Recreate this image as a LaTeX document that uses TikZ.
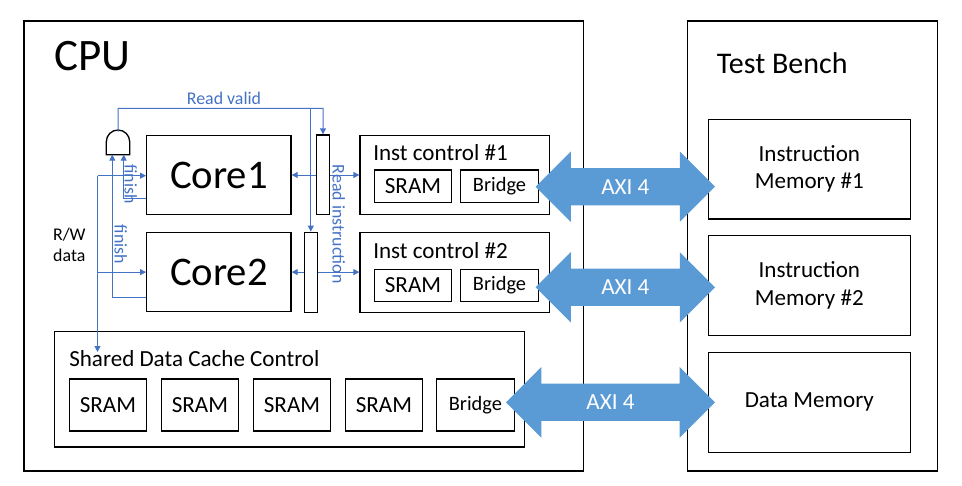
\documentclass[tikz,border=0pt]{standalone}
\usepackage{fontspec}
\setmainfont{Carlito}
\usetikzlibrary{arrows.meta,shapes.arrows,fit}
\definecolor{wireblue}{HTML}{4472C4}
\definecolor{axiblue}{HTML}{5B9BD5}
\newcommand\boxfont{\fontsize{17.3}{20.5}\selectfont}
\newcommand\bridgefont{\fontsize{15.3}{18}\selectfont}
\newcommand\sigfont{\fontsize{13.4}{15.75}\selectfont}
\newcommand\corefont{\fontsize{30.5}{36}\selectfont}
\tikzset{
  box/.style={draw, line width=1pt, inner sep=0pt},
  title/.style={anchor=base west, inner sep=0pt},
  wire/.style={draw=wireblue, line width=0.75pt, -{Triangle[length=4.5pt,width=4.5pt]}},
  sig/.style={text=wireblue, font=\sigfont},
  axi/.style={double arrow, fill=axiblue, text=white, font=\boxfont,
    double arrow tip angle=90, double arrow head extend=12.5pt,
    text height=11.1pt, text depth=0pt, inner ysep=8.2pt, inner xsep=0pt},
}
\begin{document}
\begin{tikzpicture}[x=0.75pt,y=-0.75pt]
\useasboundingbox (0,0) rectangle (962,485);
% frames
\node[box, fit={(24,21) (583.3,471)}] (cpu) {};
\node[title, font=\fontsize{33.75}{40}\selectfont] (cputitle) at (54.3,70) {CPU};
\node[box, fit={(687.7,21) (937.5,471)}] (tb) {};
\node[title, font=\fontsize{22.5}{27}\selectfont] (tbtitle) at (716.7,74) {Test Bench};

% cores and latches
\node[box, fit={(146.7,135.7) (291,214.3)}, label={[font=\corefont]center:Core1}] (core1) {};
\node[box, fit={(146.7,232.7) (291,311.5)}, label={[font=\corefont]center:Core2}] (core2) {};
\node[box, fit={(316.7,135) (329.3,214.3)}] (latch1) {};
\node[box, fit={(304.3,232.3) (317.3,312.3)}] (latch2) {};

% inst controls
\node[box, fit={(360,135.7) (549.3,214.3)}] (ic1) {};
\node[title, font=\boxfont] (ic1title) at (373,160.7) {Inst control \#1};
\node[box, fit={(374.3,170) (451.7,202.3)}, label={[font=\boxfont]center:SRAM}] (ic1sram) {};
\node[box, fit={(460.3,170) (538.7,202.3)}, label={[font=\bridgefont]center:Bridge}] (ic1bridge) {};
\node[box, fit={(360,232.7) (549.3,312.3)}] (ic2) {};
\node[title, font=\boxfont] (ic2title) at (373,258.3) {Inst control \#2};
\node[box, fit={(374.3,269.3) (451.7,301.7)}, label={[font=\boxfont]center:SRAM}] (ic2sram) {};
\node[box, fit={(460.3,269.3) (538.7,301.7)}, label={[font=\bridgefont]center:Bridge}] (ic2bridge) {};

% shared cache
\node[box, fit={(54.4,331.7) (524.4,447)}] (shared) {};
\node[title, font=\boxfont] (sharedtitle) at (69,366) {Shared Data Cache Control};
\node[box, fit={(69.2,378.9) (146.7,430.9)}, label={[font=\boxfont]center:SRAM}] (dsram1) {};
\node[box, fit={(161.2,378.9) (238.6,430.9)}, label={[font=\boxfont]center:SRAM}] (dsram2) {};
\node[box, fit={(253.4,378.9) (330.6,430.9)}, label={[font=\boxfont]center:SRAM}] (dsram3) {};
\node[box, fit={(345.4,378.9) (422.5,430.9)}, label={[font=\boxfont]center:SRAM}] (dsram4) {};
\node[box, fit={(436.3,378.9) (514.5,430.9)}, label={[font=\bridgefont]center:Bridge}] (dbridge) {};

% memories
\node[box, fit={(708.3,119.3) (910.3,219)}, label={[align=center, font=\boxfont]center:Instruction\\Memory \#1}] (im1) {};
\node[box, fit={(708.3,235.7) (910.3,335.3)}, label={[align=center, font=\boxfont]center:Instruction\\Memory \#2}] (im2) {};
\node[box, fit={(708.3,352.3) (910.3,452.3)}, label={[font=\boxfont]center:Data Memory}] (dm) {};

% AXI links
\node[axi, minimum height=134.5pt] (axi1) at (625.35,186.7) {AXI 4};
\node[axi, minimum height=134.5pt] (axi2) at (625.35,287.3) {AXI 4};
\node[axi, minimum height=156.75pt] (axi3) at (610.5,402.3) {AXI 4};

% and gate
\draw[line width=1pt] (106.3,154.7) -- (106.3,141.7) arc[start angle=180, end angle=360, radius=11.7] -- (129.7,154.7) -- cycle;
\coordinate (gateout) at (118,131.7);
\coordinate (gatein1) at (112.3,154.7);
\coordinate (gatein2) at (123.7,154.7);

% read valid
\coordinate (rv) at (323,108.3);
\draw[wire] (gateout) |- (rv) -- (latch1.north);
\draw[wire] (latch2.north |- rv) -- (latch2.north);
\node[sig] (rvlabel) at (224,98.5) {Read valid};

% read instruction
\draw[wire] (latch1.west |- core1.east) -- (core1.east);
\draw[wire] (latch1.east |- core1.east) -- (ic1.west |- core1.east);
\draw[wire] (latch2.west |- core2.east) -- (core2.east);
\draw[wire] (latch2.east |- core2.east) -- (ic2.west |- core2.east);
\node[sig, rotate=-90] (rilabel) at (338.8,224.2) {Read instruction};

% finish
\draw[wire] ([yshift=12pt]core1.south west) -| (gatein2);
\draw[wire] ([yshift=10.9pt]core2.south west) -| (gatein1);
\node[sig, rotate=-90] (fin1) at (130.8,184.2) {finish};
\node[sig, rotate=-90] (fin2) at (120.7,244.5) {finish};

% r/w data
\coordinate (rw) at (97.5,175.7);
\coordinate (rwend) at (97.5,352);
\draw[wire] (rw) -- (core1.west |- rw);
\draw[wire] (rw |- core2.west) -- (core2.west);
\draw[wire] (rw) -- (rwend);
\node[align=center, font=\sigfont] (rwlabel) at (69.3,245) {R/W\\data};
\end{tikzpicture}
\end{document}
